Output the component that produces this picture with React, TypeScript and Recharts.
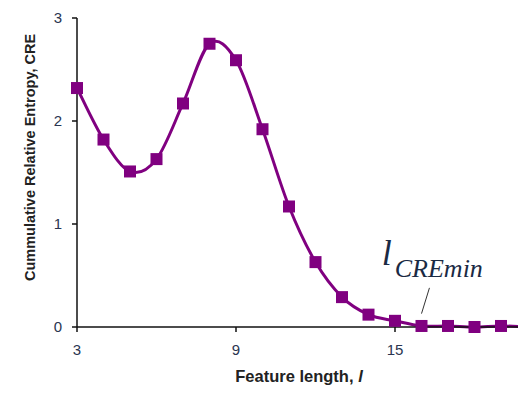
import React from 'react'
import {
  LineChart,
  Line,
  XAxis,
  YAxis,
  ReferenceLine,
  ReferenceDot,
} from 'recharts'

const featureLengths = [3, 4, 5, 6, 7, 8, 9, 10, 11, 12, 13, 14, 15, 16, 17, 18, 19, 20]
const creValues = [2.32, 1.82, 1.51, 1.63, 2.17, 2.75, 2.59, 1.92, 1.17, 0.63, 0.29, 0.12, 0.06, 0.01, 0.01, 0.0, 0.01, 0.0]
const xTicks = [3, 9, 15]
const yTicks = [0, 1, 2, 3]

const PURPLE = '#800080'
const FONT = '"Liberation Sans", Arial, sans-serif'

const data = featureLengths.map((l, i) => ({ l, cre: creValues[i] }))

// Excel-like smoothed line (Catmull-Rom through the points)
function smoothCurve(context: any) {
  let pts: number[][] = []
  return {
    areaStart() {},
    areaEnd() {},
    lineStart() {
      pts = []
    },
    lineEnd() {
      if (!pts.length) return
      context.moveTo(pts[0][0], pts[0][1])
      for (let i = 0; i < pts.length - 1; i++) {
        const p0 = pts[i - 1] || pts[i]
        const p1 = pts[i]
        const p2 = pts[i + 1]
        const p3 = pts[i + 2] || p2
        context.bezierCurveTo(
          p1[0] + (p2[0] - p0[0]) / 6,
          p1[1] + (p2[1] - p0[1]) / 6,
          p2[0] - (p3[0] - p1[0]) / 6,
          p2[1] - (p3[1] - p1[1]) / 6,
          p2[0],
          p2[1],
        )
      }
    },
    point(x: number, y: number) {
      pts.push([+x, +y])
    },
  }
}

function SquareDot(props: any) {
  const { cx, cy } = props
  if (cx == null || cy == null) return null
  return <rect x={cx - 6} y={cy - 6} width={12} height={12} fill={PURPLE} />
}

function YTitle(props: any) {
  const vb = props.viewBox || { x: 0, y: 0, width: 0, height: 0 }
  const x = vb.x + 30
  const y = vb.y + vb.height / 2 - 15
  return (
    <text
      x={x}
      y={y}
      transform={`rotate(-90, ${x}, ${y})`}
      textAnchor="middle"
      dominantBaseline="central"
      fontFamily={FONT}
      fontWeight="bold"
      fontSize={14.5}
      fill="#222"
    >
      Cummulative Relative Entropy, CRE
    </text>
  )
}

function XTitle(props: any) {
  const vb = props.viewBox || { x: 0, y: 0, width: 0, height: 0 }
  return (
    <text
      x={299}
      y={vb.y + 55}
      textAnchor="middle"
      fontFamily={FONT}
      fontWeight="bold"
      fontSize={16.5}
      fill="#222"
    >
      Feature length, <tspan fontStyle="italic">l</tspan>
    </text>
  )
}

function MinLabel(props: any) {
  const vb = props.viewBox || { x: 0, y: 0 }
  return (
    <text
      x={vb.x}
      y={vb.y}
      fontFamily={'"Liberation Serif", "Times New Roman", serif'}
      fontStyle="italic"
      fill="#1a2a44"
    >
      <tspan fontSize={36}>l</tspan>
      <tspan fontSize={26} dx={3} dy={12}>CREmin</tspan>
    </text>
  )
}

export default function App() {
  return (
    <div style={{ margin: -8, width: 526, height: 395, overflow: 'hidden', background: '#fff' }}>
      <LineChart
        width={558}
        height={395}
        data={data}
        margin={{ top: 18, right: 4, left: 0, bottom: 0 }}
      >
        <XAxis
          dataKey="l"
          type="number"
          domain={[3, 21]}
          ticks={xTicks}
          stroke="#111"
          strokeWidth={1.5}
          tickSize={5}
          tickMargin={12}
          height={68}
          tick={{ fontSize: 15, fill: '#2a3550', fontFamily: FONT }}
          label={<XTitle />}
        />
        <YAxis
          type="number"
          domain={[0, 3]}
          ticks={yTicks}
          stroke="#111"
          strokeWidth={1.5}
          tickSize={5}
          tickMargin={10}
          width={77}
          tick={{ fontSize: 15, fill: '#2a3550', fontFamily: FONT }}
          label={<YTitle />}
        />
        <ReferenceLine
          segment={[
            { x: 16.3, y: 0.38 },
            { x: 16.0, y: 0.13 },
          ]}
          stroke="#333"
          strokeWidth={1}
        />
        <ReferenceDot x={14.5} y={0.6} r={0} fill="none" stroke="none" label={<MinLabel />} />
        <Line
          type={smoothCurve as any}
          dataKey="cre"
          stroke={PURPLE}
          strokeWidth={3}
          dot={<SquareDot />}
          isAnimationActive={false}
        />
      </LineChart>
    </div>
  )
}
